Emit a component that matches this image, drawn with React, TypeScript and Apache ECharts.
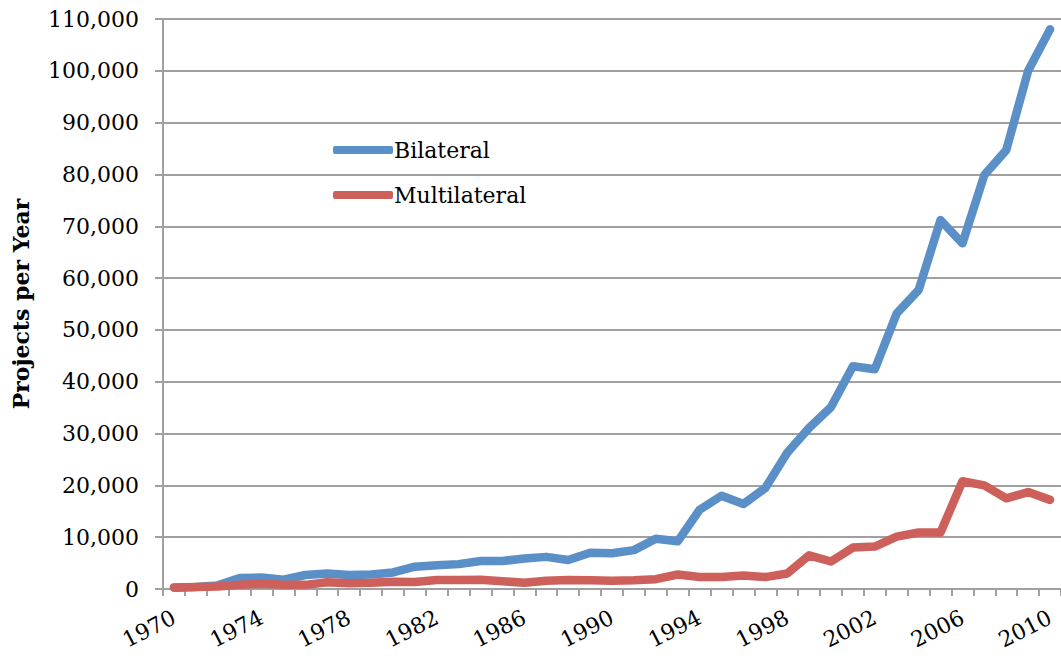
import React, { useEffect, useRef } from "react";
import * as echarts from "echarts";

const years: string[] = [];
for (let y = 1970; y <= 2010; y++) years.push(String(y));

const bilateral = [
  250, 400, 700, 2100, 2200, 1800, 2700, 3000, 2700, 2800,
  3200, 4300, 4600, 4800, 5400, 5400, 5900, 6200, 5600, 7000,
  6900, 7500, 9700, 9200, 15300, 18000, 16400, 19500, 26300, 31100,
  35100, 43000, 42400, 53200, 57700, 71200, 66700, 79900, 84700, 100000,
  108000,
];

const multilateral = [
  300, 400, 500, 800, 1000, 800, 800, 1300, 1100, 1200,
  1400, 1350, 1750, 1750, 1800, 1500, 1200, 1600, 1750, 1700,
  1600, 1700, 1900, 2800, 2300, 2300, 2600, 2300, 3000, 6500,
  5300, 8000, 8200, 10100, 10900, 10900, 20800, 20000, 17500, 18700,
  17200,
];

const seriesNames = ["Bilateral", "Multilateral"];
const colors = ["#5B8FC7", "#CD605A"];
const FONT = "DejaVu Serif";

export default function App() {
  const ref = useRef<HTMLDivElement>(null);
  useEffect(() => {
    if (!ref.current) return;
    const chart = echarts.init(ref.current, undefined, { renderer: "svg" });
    const gray = "#A0A0A0";
    chart.setOption({
      animation: false,
      backgroundColor: "#ffffff",
      textStyle: { fontFamily: FONT },
      grid: { left: 163, top: 19, bottom: 70, right: -8, containLabel: false },
      legend: {
        orient: "vertical",
        left: 328,
        top: 132,
        icon: "roundRect",
        itemWidth: 60,
        itemHeight: 8,
        itemGap: 19,
        textStyle: { fontFamily: FONT, fontSize: 22, color: "#000", lineHeight: 26, padding: [0, 0, 0, -4] },
        data: seriesNames,
      },
      xAxis: {
        type: "category",
        data: years,
        boundaryGap: true,
        axisLine: { lineStyle: { color: gray, width: 2 } },
        axisTick: { show: true, interval: 0, length: 7, lineStyle: { color: gray, width: 2 } },
        axisLabel: {
          interval: 3,
          rotate: 27,
          margin: 27,
          fontFamily: FONT,
          fontSize: 22,
          color: "#000",
        },
        splitLine: { show: false },
      },
      yAxis: {
        type: "value",
        min: 0,
        max: 110000,
        interval: 10000,
        name: "Projects per Year",
        nameLocation: "middle",
        nameRotate: 90,
        nameGap: 131,
        nameTextStyle: { fontFamily: FONT, fontSize: 22, fontWeight: "bold", color: "#000" },
        axisLine: { show: true, lineStyle: { color: gray, width: 2 } },
        axisTick: { show: true, length: 8, lineStyle: { color: gray, width: 2 } },
        axisLabel: {
          margin: 24,
          fontFamily: FONT,
          fontSize: 22,
          color: "#000",
          formatter: (v: number) => v.toLocaleString("en-US"),
        },
        splitLine: { show: true, lineStyle: { color: gray, width: 2 } },
      },
      series: [
        {
          name: seriesNames[0],
          type: "line",
          data: bilateral,
          color: colors[0],
          showSymbol: false,
          symbol: "none",
          lineStyle: { width: 8.5, color: colors[0], cap: "round", join: "round" },
        },
        {
          name: seriesNames[1],
          type: "line",
          data: multilateral,
          color: colors[1],
          showSymbol: false,
          symbol: "none",
          lineStyle: { width: 8.5, color: colors[1], cap: "round", join: "round" },
        },
      ],
    });
    return () => chart.dispose();
  }, []);
  return (
    <div
      ref={ref}
      style={{ position: "fixed", left: 0, top: 0, width: 1061, height: 659, background: "#fff" }}
    />
  );
}
